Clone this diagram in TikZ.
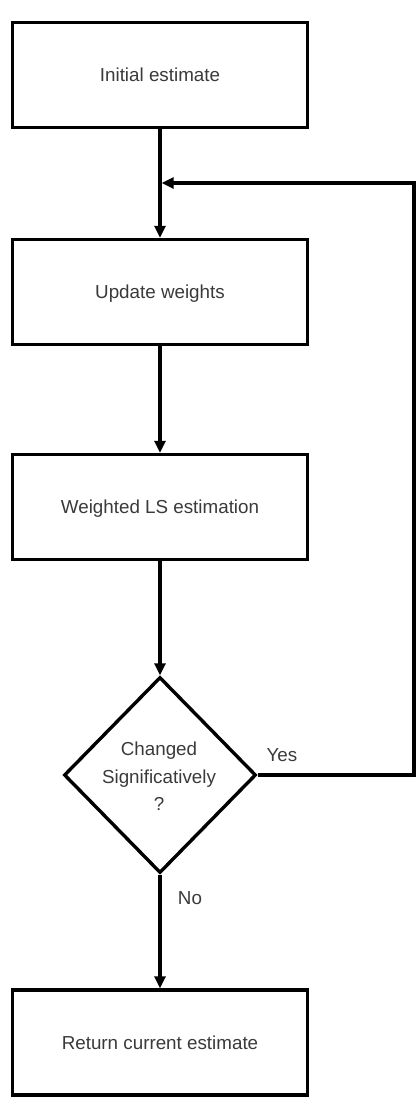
\documentclass[tikz,border=0pt]{standalone}
\usepackage{fontspec}
\setmainfont{Liberation Sans}
\usetikzlibrary{arrows.meta,shapes.geometric}
\definecolor{txtgray}{HTML}{3A3A3A}
\begin{document}
\begin{tikzpicture}[x=1pt,y=-1pt,
  every node/.style={font=\fontsize{18.8}{27.5}\selectfont, text=txtgray},
  stepbox/.style={draw=black, line width=3.4pt, rectangle, minimum width=295pt, minimum height=105pt, inner sep=0pt, text height=13.4pt, text depth=0pt, fill=white},
  decide/.style={draw=black, line width=3.4pt, diamond, minimum width=192pt, minimum height=196pt, inner sep=0pt},
  conn/.style={draw=black, line width=3.4pt, -{Triangle[length=12pt,width=11pt]}}
]
\useasboundingbox (0,0) rectangle (418,1100);
\node[stepbox] (b1) at (160,75) {Initial estimate};
\node[stepbox] (b2) at (160,292) {Update weights};
\node[stepbox] (b3) at (160,507) {Weighted LS estimation};
\node[decide] (d) at (160,775) {};
\node[align=center, inner sep=0pt] (dt) at (159,776.5) {Changed\\Significatively\\?};
\node[stepbox] (b4) at (160,1042.5) {Return current estimate};
\node[inner sep=0pt, text height=13.4pt, text depth=0pt] (yes) at (282,755) {Yes};
\node[inner sep=0pt, text height=13.4pt, text depth=0pt] (no) at (190,898) {No};
\coordinate (fbr) at (414,775);
\coordinate (join) at (161.7,183);
\draw[conn] (b1.south) -- (b2.north);
\draw[conn] (b2.south) -- (b3.north);
\draw[conn] (b3.south) -- (d.north);
\draw[conn] (d.south) -- (b4.north);
\draw[conn] (d.east) -- (fbr) |- (join);
\end{tikzpicture}
\end{document}
